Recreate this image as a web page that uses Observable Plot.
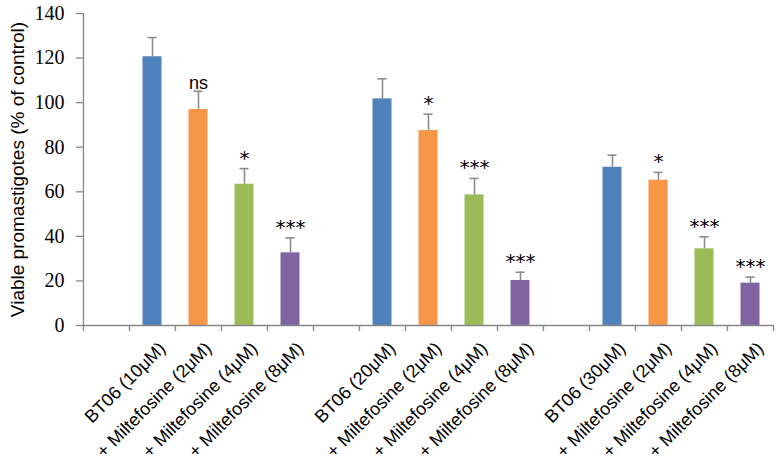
<!DOCTYPE html>
<html>
<head>
<meta charset="utf-8">
<script src="https://cdn.jsdelivr.net/npm/d3@7"></script>
<script src="https://cdn.jsdelivr.net/npm/@observablehq/plot@0.6"></script>
<style>
  html, body { margin: 0; padding: 0; background: #fff; overflow: hidden; }
  #chart svg { display: block; }
</style>
</head>
<body>
<div id="chart"></div>
<script>
// slot labels (blank slots are the gaps between groups)
const labels = ["", "BT06 (10μM)", "+ Miltefosine (2μM)", "+ Miltefosine (4μM)", "+ Miltefosine (8μM)",
                "", "BT06 (20μM)", "+ Miltefosine (2μM)", "+ Miltefosine (4μM)", "+ Miltefosine (8μM)",
                "", "BT06 (30μM)", "+ Miltefosine (2μM)", "+ Miltefosine (4μM)", "+ Miltefosine (8μM)"];
const series = ["", "BT06", "MF2", "MF4", "MF8",
                "", "BT06", "MF2", "MF4", "MF8",
                "", "BT06", "MF2", "MF4", "MF8"];
const values = [null, 120.6, 96.9, 63.4, 32.6,
                null, 101.7, 87.5, 58.6, 20.2,
                null, 71.0, 65.2, 34.4, 19.0];
const errors = [null, 8.6, 8.2, 7.0, 6.7,
                null, 9.0, 7.3, 7.4, 3.7,
                null, 5.4, 3.5, 5.4, 2.7];
const signif = ["", "", "ns", "*", "***",
                "", "", "*", "***", "***",
                "", "", "*", "***", "***"];
const seriesNames = ["BT06", "MF2", "MF4", "MF8"];
const seriesColors = ["#4F81BD", "#F79646", "#9BBB59", "#8064A2"];
const yTicks = [0, 20, 40, 60, 80, 100, 120, 140];
const yTitle = "Viable promastigotes (% of control)";

const slots = labels.map((_, i) => i);
const data = slots.map(i => ({slot: i, label: labels[i], series: series[i], value: values[i], err: errors[i], sig: signif[i]}))
  .filter(d => d.value != null);
const starData = data.filter(d => d.sig.startsWith("*"));
const textData = data.filter(d => d.sig && !d.sig.startsWith("*"));

const W = 778, H = 466, mL = 82, mR = 5, mT = 13, mB = 141;
const bw = (W - mL - mR) / slots.length;
const axisGray = "#868686";
const errGray = "#8c8c8c";
const sans = "Liberation Sans, Arial, sans-serif";
const serif = "Liberation Serif, Times New Roman, serif";

const plot = Plot.plot({
  width: W,
  height: H,
  marginLeft: mL,
  marginRight: mR,
  marginTop: mT,
  marginBottom: mB,
  style: {background: "#fff"},
  x: {type: "band", domain: slots, padding: 0, axis: null},
  y: {domain: [0, 140], axis: null},
  color: {domain: seriesNames, range: seriesColors},
  marks: [
    Plot.barY(data, {x: "slot", y: "value", fill: "series", insetLeft: 13.5, insetRight: 13.5}),
    // error bars (upper only)
    Plot.ruleX(data, {x: "slot", y1: "value", y2: d => d.value + d.err, stroke: errGray, strokeWidth: 1.6}),
    Plot.tickY(data, {x: "slot", y: d => d.value + d.err, stroke: errGray, strokeWidth: 1.6, insetLeft: 18.5, insetRight: 18.5}),
    // significance labels
    Plot.text(textData, {x: "slot", y: d => d.value + d.err, text: "sig", lineAnchor: "bottom", dy: -2,
      fontSize: 18, fontFamily: sans, fill: "#000"}),
    Plot.text(starData, {x: "slot", y: d => d.value + d.err, text: "sig", lineAnchor: "bottom", dy: -4,
      fontSize: 20, fontFamily: "DejaVu Sans, sans-serif", fill: "#000"}),
    // x axis line and boundary tick marks
    Plot.ruleY([0], {stroke: axisGray, strokeWidth: 1.3}),
    Plot.ruleX(slots, {x: d => d, y1: 0, y2: 0, dx: -bw / 2, insetBottom: -6, stroke: axisGray, strokeWidth: 1.3}),
    Plot.ruleX([slots[slots.length - 1]], {x: d => d, y1: 0, y2: 0, dx: bw / 2, insetBottom: -6, stroke: axisGray, strokeWidth: 1.3}),
    // y axis line, ticks and labels
    Plot.ruleX([slots[0]], {x: d => d, y1: 0, y2: 140, dx: -bw / 2, stroke: axisGray, strokeWidth: 1.3}),
    Plot.tickY(yTicks, {y: d => d, x: () => slots[0], insetLeft: -7, insetRight: bw, stroke: axisGray, strokeWidth: 1.3}),
    Plot.text(yTicks, {y: d => d, text: d => String(d), frameAnchor: "left", textAnchor: "end", dx: -18,
      fontSize: 20, fontFamily: serif, fill: "#000"}),
    // rotated category labels
    Plot.text(data, {x: "slot", y: () => 0, text: "label", rotate: -45, textAnchor: "end", lineAnchor: "middle",
      dx: 10, dy: 20, fontSize: 18, fontFamily: sans, fill: "#000"}),
    // y axis title
    Plot.text([yTitle], {frameAnchor: "left", textAnchor: "middle", rotate: -90,
      dx: -65, fontSize: 19, fontFamily: sans, fill: "#000"})
  ]
});

document.getElementById("chart").appendChild(plot);
</script>
</body>
</html>
